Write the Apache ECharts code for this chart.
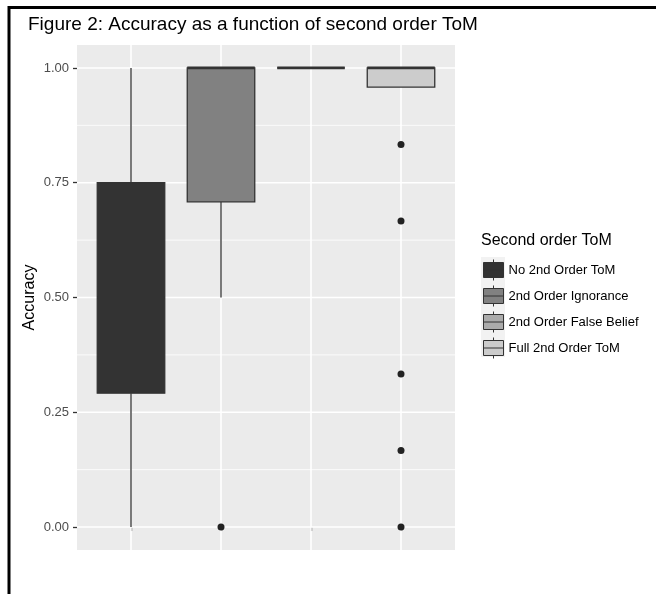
<!DOCTYPE html>
<html>
<head>
<meta charset="utf-8">
<script src="https://cdn.jsdelivr.net/npm/echarts@6/dist/echarts.min.js"></script>
<style>html,body{margin:0;padding:0;background:#fff;}#c{width:656px;height:594px;}</style>
</head>
<body>
<div id="c"></div>
<script>
// ---- data ----
var categories = ['No 2nd Order ToM', '2nd Order Ignorance', '2nd Order False Belief', 'Full 2nd Order ToM'];
var fills = ['#333333', '#818181', '#ABABAB', '#CCCCCC'];
var whiskerLow = [0, 0.5, 1, 1];
var q1 = [0.2917, 0.7083, 1, 0.9583];
var median = [0.5, 1, 1, 1];
var q3 = [0.75, 1, 1, 1];
var whiskerHigh = [1, 1, 1, 1];
var outliers = [[], [0], [], [0.8333, 0.6667, 0.3333, 0.1667, 0]];
var yTicks = [0, 0.25, 0.5, 0.75, 1];
var yMinor = [0.125, 0.375, 0.625, 0.875];
var xTicks = [1, 2, 3, 4];

var FONT = 'Liberation Sans, Arial, sans-serif';
var chart = echarts.init(document.getElementById('c'), null, {renderer: 'canvas'});

function boxRender(params, api) {
  var x = api.value(0);
  var lo = api.value(1), a = api.value(2), m = api.value(3), b = api.value(4), hi = api.value(5);
  var hw = 0.375;
  var pl = api.coord([x - hw, a]);
  var pr = api.coord([x + hw, b]);
  var pLo = api.coord([x, lo]), pA = api.coord([x, a]), pB = api.coord([x, b]), pHi = api.coord([x, hi]);
  var pM = api.coord([x - hw, m]), pM2 = api.coord([x + hw, m]);
  var color = api.visual('color');
  var children = [];
  if (hi > b) children.push({type: 'line', shape: {x1: pB[0], y1: pB[1], x2: pHi[0], y2: pHi[1]}, style: {stroke: '#333333', lineWidth: 1.3}});
  if (lo < a) children.push({type: 'line', shape: {x1: pLo[0], y1: pLo[1], x2: pA[0], y2: pA[1]}, style: {stroke: '#333333', lineWidth: 1.3}});
  children.push({type: 'rect', shape: {x: pl[0], y: pr[1], width: pr[0] - pl[0], height: pl[1] - pr[1]}, style: {fill: color, stroke: '#333333', lineWidth: 1.3}});
  children.push({type: 'line', shape: {x1: pM[0], y1: pM[1], x2: pM2[0], y2: pM2[1]}, style: {stroke: '#333333', lineWidth: 2.8}});
  return {type: 'group', children: children};
}

function gridRender(params, api) {
  var cs = params.coordSys;
  var kind = api.value(0), v = api.value(1);
  if (kind === 0 || kind === 1) {
    var p = api.coord([1, v]);
    return {type: 'line', shape: {x1: cs.x, y1: p[1], x2: cs.x + cs.width, y2: p[1]},
      style: {stroke: '#ffffff', lineWidth: kind === 0 ? 1.6 : 0.8}};
  } else {
    var q = api.coord([v, 0]);
    return {type: 'line', shape: {x1: q[0], y1: cs.y, x2: q[0], y2: cs.y + cs.height},
      style: {stroke: '#ffffff', lineWidth: 1.6}};
  }
}

var gridData = [];
yTicks.forEach(function (v) { gridData.push([0, v]); });
yMinor.forEach(function (v) { gridData.push([1, v]); });
xTicks.forEach(function (v) { gridData.push([2, v]); });

var series = [{
  type: 'custom', name: 'grid', z: 1, silent: true, renderItem: gridRender,
  data: gridData, encode: {x: -1, y: -1}, clip: true
}];
categories.forEach(function (c, i) {
  series.push({
    type: 'custom', name: c, z: 3, renderItem: boxRender,
    itemStyle: {color: fills[i]},
    encode: {x: 0, y: [1, 2, 3, 4, 5]},
    data: [[i + 1, whiskerLow[i], q1[i], median[i], q3[i], whiskerHigh[i]]]
  });
});
var outData = [];
outliers.forEach(function (arr, i) { arr.forEach(function (v) { outData.push([i + 1, v]); }); });
series.push({type: 'scatter', name: 'outliers', z: 4, symbolSize: 7, itemStyle: {color: '#222222', opacity: 1}, data: outData});

var keyPath = 'path://M0,3 H20 V18 H0 Z M0,10.5 H20 M10,0 V3 M10,18 V21';
var legendTop = 259;
var keyBg = [];
for (var k = 0; k < categories.length; k++) {
  keyBg.push({type: 'rect', shape: {x: 481, y: legendTop - 2 + 25 * k, width: 24, height: 25}, style: {fill: '#F2F2F2'}, z: 0});
}

chart.setOption({
  animation: false,
  backgroundColor: '#ffffff',
  textStyle: {fontFamily: FONT},
  title: [
    {text: 'Figure 2: Accuracy as a function of second order ToM', left: 28, top: 15, padding: 0,
     textStyle: {fontSize: 19, fontWeight: 'normal', color: '#000', fontFamily: FONT}},
    {text: 'Second order ToM', left: 481, top: 233, padding: 0,
     textStyle: {fontSize: 16, fontWeight: 'normal', color: '#000', fontFamily: FONT}}
  ],
  graphic: keyBg.concat([
    {type: 'polyline', shape: {points: [[9, 594], [9, 7.5], [656, 7.5]]}, style: {stroke: '#000', lineWidth: 3, fill: null}, z: 10}
  ]),
  legend: {
    orient: 'vertical', left: 483, top: legendTop, padding: 0, itemGap: 4,
    itemWidth: 20, itemHeight: 21, selectedMode: false,
    textStyle: {fontSize: 13, color: '#000', fontFamily: FONT},
    data: categories.map(function (c, i) {
      return {name: c, icon: keyPath, itemStyle: {color: fills[i], borderColor: '#333333', borderWidth: 1}};
    })
  },
  grid: {left: 77, top: 45, width: 378, height: 505, show: true, backgroundColor: '#EBEBEB', borderWidth: 0, containLabel: false},
  xAxis: {
    type: 'value', min: 0.4, max: 4.6,
    axisLine: {show: false},
    axisTick: {show: true, customValues: xTicks, length: 4, lineStyle: {color: '#333333', width: 1.3}},
    axisLabel: {show: false},
    splitLine: {show: false}
  },
  yAxis: {
    type: 'value', min: -0.05, max: 1.05,
    name: 'Accuracy', nameLocation: 'middle', nameRotate: 90, nameGap: 39, nameMoveOverlap: false,
    nameTextStyle: {fontSize: 16, color: '#000', fontFamily: FONT},
    axisLine: {show: false},
    axisTick: {show: true, customValues: yTicks, length: 4, lineStyle: {color: '#333333', width: 1.3}},
    axisLabel: {customValues: yTicks, margin: 8, fontSize: 13, color: '#4D4D4D', fontFamily: FONT,
      formatter: function (v) { return v.toFixed(2); }},
    splitLine: {show: false}
  },
  series: series
});
</script>
</body>
</html>
